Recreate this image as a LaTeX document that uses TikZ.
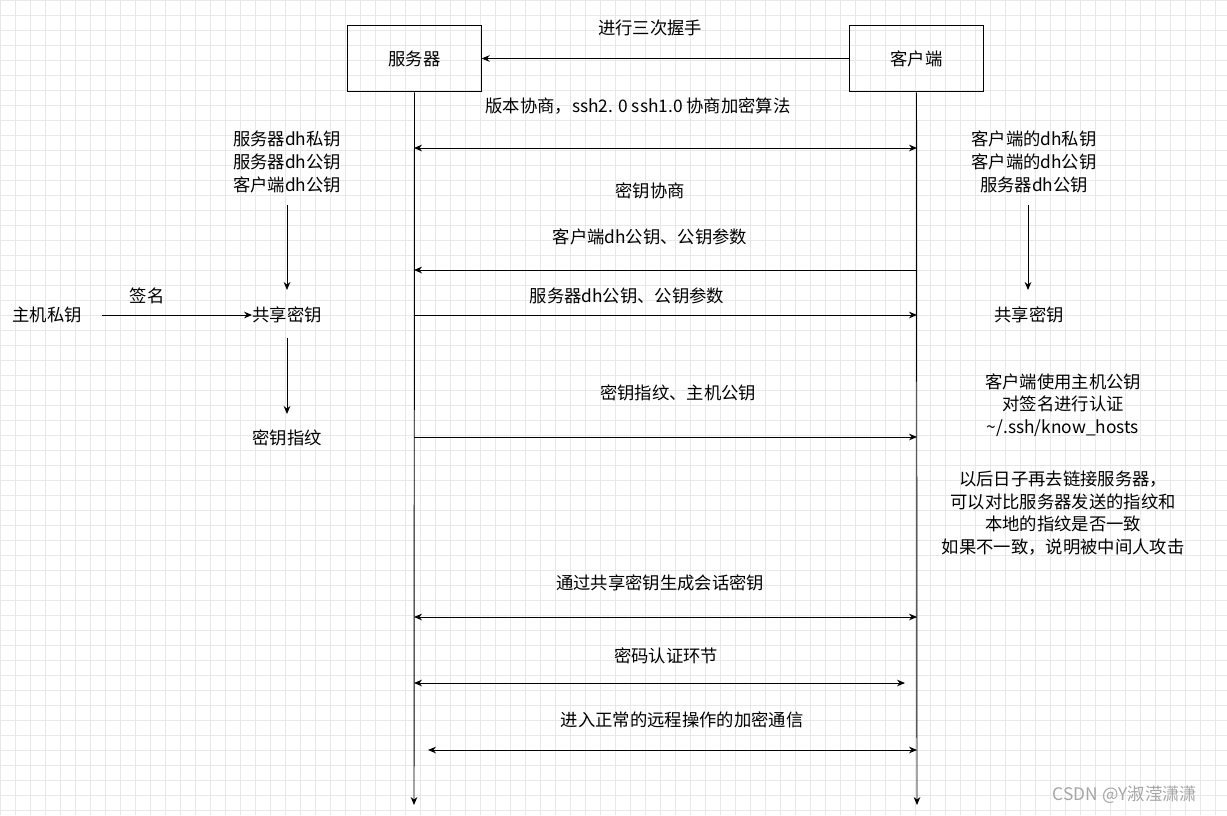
\documentclass[tikz,border=0pt]{standalone}
\usepackage{fontspec}
\setmainfont{Noto Sans CJK SC}
\usetikzlibrary{arrows.meta}
\begin{document}
\begin{tikzpicture}[x=0.75pt,y=-0.75pt,
  lbl/.style={font=\fontsize{13}{17}\selectfont,align=center,inner sep=0pt},
  box/.style={draw,line width=0.8pt,minimum width=100pt,minimum height=50pt,font=\fontsize{13}{17}\selectfont},
  ar/.style={-{Stealth[length=6pt,width=5pt]},line width=0.7pt},
  dar/.style={{Stealth[length=6pt,width=5pt]}-{Stealth[length=6pt,width=5pt]},line width=0.7pt}]
\useasboundingbox (0,0) rectangle (1227,815);
\fill[white] (0,0) rectangle (1227,815);
\foreach \i in {0,15,...,1227} \draw[black!9,line width=0.4pt] (\i,0) -- (\i,815);
\foreach \j in {0,15,...,815} \draw[black!9,line width=0.4pt] (0,\j) -- (1227,\j);
\node[box] (srv) at (414.5,58.5) {服务器};
\node[box] (cli) at (916.5,58.5) {客户端};
\coordinate (sb) at (414,805); \coordinate (cb) at (917,805);
\draw[ar] (srv.south) -- (sb);
\draw[ar] (cli.south) -- (cb);
\draw[ar] (cli.west) -- (srv.east);
\node[lbl] (t0) at (650,28) {进行三次握手};
\node[lbl] (t1) at (638,106) {版本协商，ssh2. 0 ssh1.0 协商加密算法};
\coordinate (a1) at (414,148); \coordinate (b1) at (917,148);
\draw[dar] (a1) -- (b1);
\node[lbl] (lk) at (287,162) {服务器dh私钥\\服务器dh公钥\\客户端dh公钥};
\node[lbl] (rk) at (1034,162) {客户端的dh私钥\\客户端的dh公钥\\服务器dh公钥};
\node[lbl] (t2) at (650,191) {密钥协商};
\node[lbl] (t3) at (650,237) {客户端dh公钥、公钥参数};
\coordinate (a2) at (414,270); \coordinate (b2) at (917,270);
\draw[ar] (b2) -- (a2);
\node[lbl] (t4) at (627,296) {服务器dh公钥、公钥参数};
\coordinate (a3) at (414,315); \coordinate (b3) at (917,315);
\draw[ar] (a3) -- (b3);
\node[lbl] (hk) at (47,315) {主机私钥};
\node[lbl] (sig) at (147,296) {签名};
\node[lbl] (ls) at (287,315) {共享密钥};
\node[lbl] (rs) at (1029,315) {共享密钥};
\node[lbl] (lf) at (287,438) {密钥指纹};
\draw[ar] (102,315) -- (ls.west);
\draw[ar] (287,205) -- (287,290);
\draw[ar] (1028,205) -- (1028,290);
\draw[ar] (287,338) -- (287,414);
\node[lbl] (t5) at (678,393) {密钥指纹、主机公钥};
\coordinate (a4) at (414,437); \coordinate (b4) at (917,437);
\draw[ar] (a4) -- (b4);
\node[lbl] (rv) at (1063,405) {客户端使用主机公钥\\对签名进行认证\\\textasciitilde/.ssh/know\_hosts};
\node[lbl] (rn) at (1063,513) {以后日子再去链接服务器，\\可以对比服务器发送的指纹和\\本地的指纹是否一致\\如果不一致，说明被中间人攻击};
\node[lbl] (t6) at (660,583) {通过共享密钥生成会话密钥};
\coordinate (a5) at (414,617); \coordinate (b5) at (917,617);
\draw[dar] (a5) -- (b5);
\node[lbl] (t7) at (666,656) {密码认证环节};
\coordinate (a6) at (414,683); \coordinate (b6) at (905,683);
\draw[dar] (a6) -- (b6);
\node[lbl] (t8) at (682,720) {进入正常的远程操作的加密通信};
\coordinate (a7) at (428,750); \coordinate (b7) at (917,750);
\draw[dar] (a7) -- (b7);
\node[lbl,text=black!35] (wm) at (1125,795) {CSDN @Y淑滢潇潇};
\end{tikzpicture}
\end{document}
